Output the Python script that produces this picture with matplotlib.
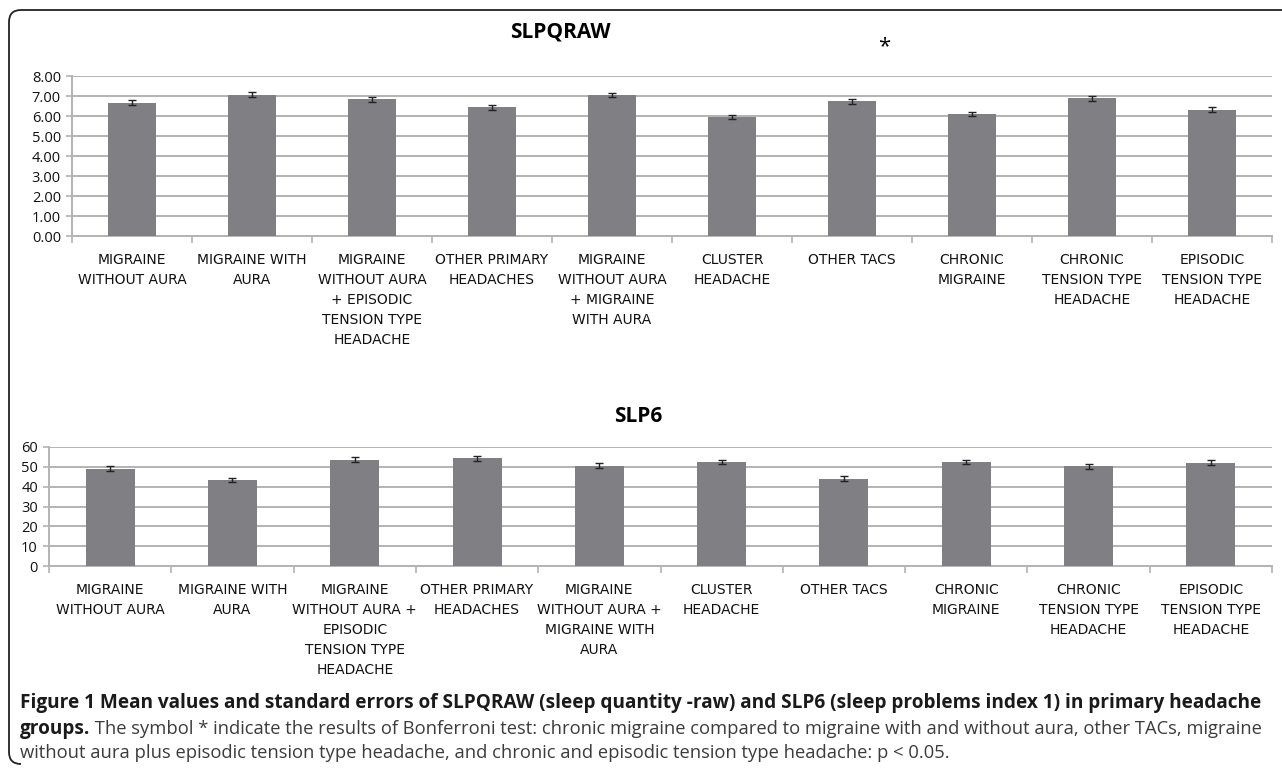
import matplotlib.pyplot as plt
from matplotlib.path import Path
from matplotlib.patches import PathPatch
from matplotlib.ticker import FixedLocator, FormatStrFormatter
import numpy as np

# Data
GROUPS_TOP = [
    "MIGRAINE\nWITHOUT AURA", "MIGRAINE WITH\nAURA",
    "MIGRAINE\nWITHOUT AURA\n+ EPISODIC\nTENSION TYPE\nHEADACHE",
    "OTHER PRIMARY\nHEADACHES", "MIGRAINE\nWITHOUT AURA\n+ MIGRAINE\nWITH AURA",
    "CLUSTER\nHEADACHE", "OTHER TACS", "CHRONIC\nMIGRAINE",
    "CHRONIC\nTENSION TYPE\nHEADACHE", "EPISODIC\nTENSION TYPE\nHEADACHE",
]
GROUPS_BOTTOM = [
    "MIGRAINE\nWITHOUT AURA", "MIGRAINE WITH\nAURA",
    "MIGRAINE\nWITHOUT AURA +\nEPISODIC\nTENSION TYPE\nHEADACHE",
    "OTHER PRIMARY\nHEADACHES", "MIGRAINE\nWITHOUT AURA +\nMIGRAINE WITH\nAURA",
    "CLUSTER\nHEADACHE", "OTHER TACS", "CHRONIC\nMIGRAINE",
    "CHRONIC\nTENSION TYPE\nHEADACHE", "EPISODIC\nTENSION TYPE\nHEADACHE",
]
SLPQRAW_MEAN = [6.67, 7.07, 6.84, 6.44, 7.04, 5.97, 6.74, 6.11, 6.88, 6.32]
SLPQRAW_SE = [0.12, 0.11, 0.12, 0.12, 0.11, 0.10, 0.12, 0.10, 0.12, 0.11]
SLP6_MEAN = [49.0, 43.4, 53.5, 54.3, 50.5, 52.4, 44.0, 52.4, 50.3, 52.0]
SLP6_SE = [1.2, 1.2, 1.3, 1.3, 1.2, 1.1, 1.2, 1.1, 1.2, 1.2]

BAR = "#7f7f84"
GRID = "#b3b3b3"
CAPFONT = ["Open Sans", "DejaVu Sans"]

W, H = 1282, 770
fig = plt.figure(figsize=(W / 100, H / 100), dpi=100)
fig.patch.set_facecolor("white")


def px_axes(x0, y0, x1, y1):
    # pixel box (top-left origin) -> figure axes
    return fig.add_axes([x0 / W, 1 - y1 / H, (x1 - x0) / W, (y1 - y0) / H])


def bar_panel(ax, labels, means, ses, ymax, step, fmt):
    x = np.arange(len(means))
    ax.bar(x, means, width=0.4, color=BAR, zorder=3)
    ax.errorbar(x, means, yerr=ses, fmt="none", ecolor="#222222",
                elinewidth=1.0, capsize=3, capthick=1.0, zorder=4)
    ax.set_xlim(-0.5, len(means) - 0.5)
    ax.set_ylim(0, ymax)
    ax.set_yticks(np.arange(0, ymax + step / 2, step))
    ax.yaxis.set_major_formatter(FormatStrFormatter(fmt))
    ax.yaxis.grid(True, color=GRID, linewidth=1.4, zorder=0)
    ax.set_xticks(x)
    ax.set_xticklabels(labels, fontsize=10, color="#111111",
                       linespacing=1.55, va="top")
    ax.xaxis.set_minor_locator(FixedLocator(np.arange(-0.5, len(means), 1.0)))
    ax.tick_params(axis="x", which="major", length=0, pad=12)
    ax.tick_params(axis="x", which="minor", length=5, color=GRID, width=1.2)
    ax.tick_params(axis="y", length=4, color=GRID, width=1.2, labelsize=10.5,
                   labelcolor="#111111", pad=4)
    for lab in ax.get_yticklabels():
        lab.set_family(["Open Sans", "DejaVu Sans"])
    for s in ["top", "right"]:
        ax.spines[s].set_visible(False)
    for s in ["left", "bottom"]:
        ax.spines[s].set_color(GRID)
        ax.spines[s].set_linewidth(1.4)


ax_top = px_axes(72, 76, 1272, 236)
bar_panel(ax_top, GROUPS_TOP, SLPQRAW_MEAN, SLPQRAW_SE, 8, 1, "%.2f")
ax_bot = px_axes(49, 447, 1272, 566)
bar_panel(ax_bot, GROUPS_BOTTOM, SLP6_MEAN, SLP6_SE, 60, 10, "%d")

fig.text(560 / W, 1 - 32 / H, "SLPQRAW", ha="center", va="center",
         fontsize=15, fontweight="bold", family=["Open Sans", "DejaVu Sans"])
fig.text(884 / W, 1 - 47 / H, "*", ha="center", va="center", fontsize=16,
         family=["Open Sans", "DejaVu Sans"])
fig.text(638 / W, 1 - 417 / H, "SLP6", ha="center", va="center",
         fontsize=15, fontweight="bold", family=["Open Sans", "DejaVu Sans"])

# caption
CAP1 = ("Figure 1 Mean values and standard errors of SLPQRAW (sleep quantity -raw) "
        "and SLP6 (sleep problems index 1) in primary headache")
CAP2B = "groups."
CAP2 = (" The symbol * indicate the results of Bonferroni test: chronic migraine "
        "compared to migraine with and without aura, other TACs, migraine")
CAP3 = ("without aura plus episodic tension type headache, and chronic and "
        "episodic tension type headache: p < 0.05.")
cx = 20 / W
renderer = fig.canvas.get_renderer()
t1 = fig.text(cx, 1 - 703 / H, CAP1, ha="left", va="center", fontsize=12,
              fontweight="bold", family=CAPFONT, color="#1a1a1a")
# fit the bold first line to the width it has in the figure
fs = 12 * 1242 / t1.get_window_extent(renderer).width
t1.set_fontsize(fs)
tb = fig.text(cx, 1 - 729 / H, CAP2B, ha="left", va="center", fontsize=fs,
              fontweight="bold", family=CAPFONT, color="#1a1a1a")
bb = tb.get_window_extent(renderer)
t2 = fig.text(bb.x1 / W, 1 - 729 / H, CAP2, ha="left", va="center",
              fontsize=fs, family=CAPFONT, color="#3c3c3c")
fs2 = fs * (1262 - bb.x1) / t2.get_window_extent(renderer).width
t2.set_fontsize(fs2)
fig.text(cx, 1 - 753 / H, CAP3, ha="left", va="center", fontsize=fs2,
         family=CAPFONT, color="#3c3c3c")

# frame: rounded top-left corner, left edge, short bottom-left curve
verts = [(W, 10), (21, 10), (9, 10), (9, 22), (9, 752), (9, 764), (21, 764)]
codes = [Path.MOVETO, Path.LINETO, Path.CURVE3, Path.CURVE3, Path.LINETO,
         Path.CURVE3, Path.CURVE3]
verts = [(vx / W, 1 - vy / H) for vx, vy in verts]
fig.add_artist(PathPatch(Path(verts, codes), transform=fig.transFigure,
                         fill=False, edgecolor="#222222", linewidth=1.3))

fig.savefig("out.png", dpi=100)
